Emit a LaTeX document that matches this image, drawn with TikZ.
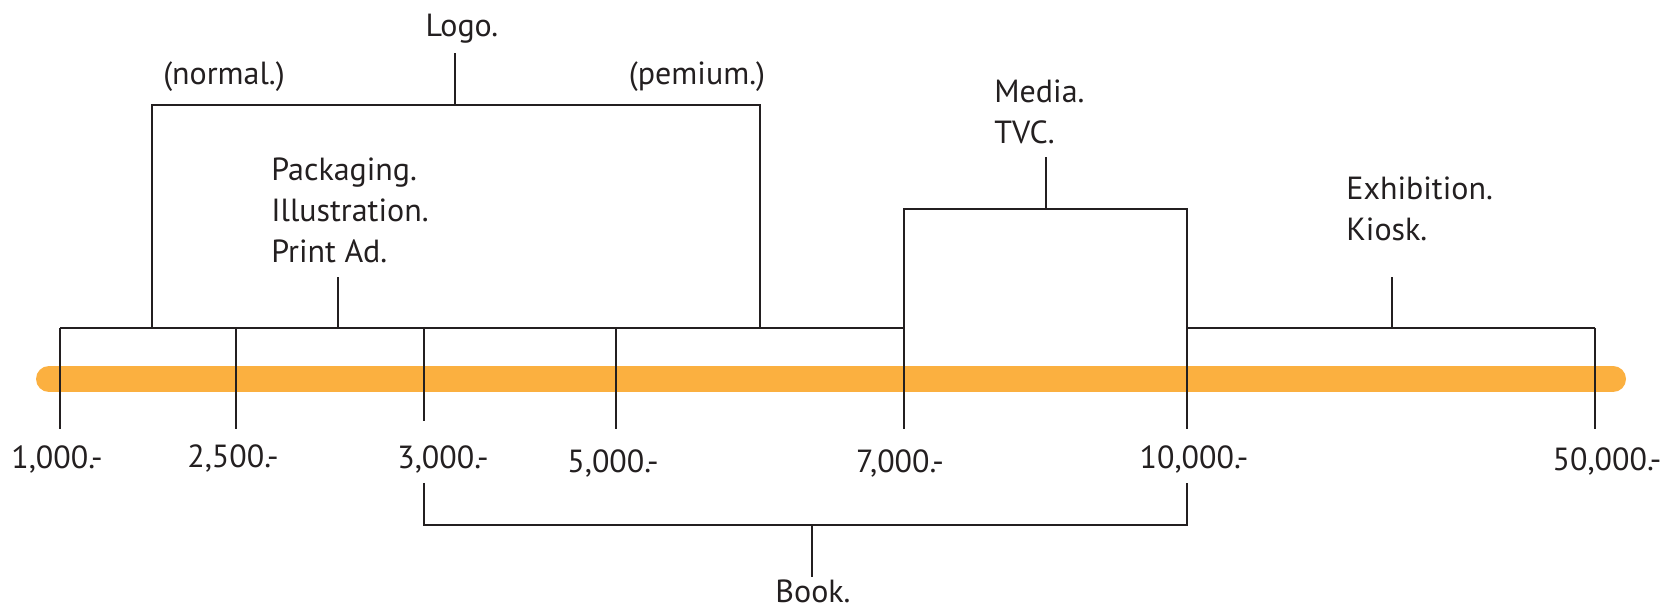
\documentclass[tikz,border=0pt]{standalone}
\usepackage{fontspec}
\setmainfont{PT Sans}
\usepackage{tikz}
\definecolor{barorange}{RGB}{251,176,64}
\definecolor{inkblack}{RGB}{35,31,32}

\begin{document}
\begin{tikzpicture}[x=0.5pt,y=-0.5pt,line cap=butt,
        bracket/.style={draw=inkblack,line width=1.25pt},
        lab/.style={inner sep=0pt,text=inkblack,font=\fontsize{16}{20.5}\selectfont},
        price/.style={lab,anchor=base}]
        \useasboundingbox (0,0) rectangle (1664,608);
        % the price bar
        \draw[barorange,line width=13pt,line cap=round] (49,379) -- (1613,379);
        % tick points on the axis
        \foreach \n/\x in {a/60,b/236,c/424,d/616,e/904,f/1187,g/1595}
                \coordinate (t\n) at (\x,328);
        % axis and ticks
        \draw[bracket] (ta) -- (te);
        \draw[bracket] (tf) -- (tg);
        \foreach \n in {a,b,d,e,f,g}
                \draw[bracket] (t\n) -- ++(0,101);
        \draw[bracket] (tc) -- ++(0,93);
        % price labels
        \node[price] (p1)  at (57,469)   {1,000.-};
        \node[price] (p2)  at (233,468)  {2,500.-};
        \node[price] (p3)  at (443,469)  {3,000.-};
        \node[price] (p5)  at (613,473)  {5,000.-};
        \node[price] (p7)  at (900,473)  {7,000.-};
        \node[price] (p10) at (1194,469) {10,000.-};
        \node[price] (p50) at (1607,471) {50,000.-};
        % logo bracket
        \node[lab,anchor=base] (logo) at (462,37) {Logo.};
        \node[lab,anchor=base] (normal) at (224,85) {(normal.)};
        \node[lab,anchor=base] (premium) at (697,85) {(pemium.)};
        \coordinate (lgl) at (152,105);
        \coordinate (lgr) at (760,105);
        \draw[bracket] (152,328) -- (lgl) -- (lgr) -- (760,328);
        \draw[bracket] (455,105) -- (455,53);
        % packaging
        \node[lab,anchor=north west,align=left] (pack) at (271,157)
                {Packaging.\\Illustration.\\Print Ad.};
        \draw[bracket] (338,328) -- (338,277);
        % media box
        \node[lab,anchor=north west,align=left] (media) at (994,79) {Media.\\TVC.};
        \draw[bracket] (te) -- (904,209) -- (1187,209) -- (tf);
        \draw[bracket] (1046,209) -- (1046,157);
        % exhibition
        \node[lab,anchor=north west,align=left] (exhib) at (1346,176) {Exhibition.\\Kiosk.};
        \draw[bracket] (1392,328) -- (1392,277);
        % book bracket
        \draw[bracket] (424,483) -- (424,525) -- (1187,525) -- (1187,483);
        \draw[bracket] (812,525) -- (812,577);
        \node[lab,anchor=base] (book) at (813,602) {Book.};
\end{tikzpicture}
\end{document}
